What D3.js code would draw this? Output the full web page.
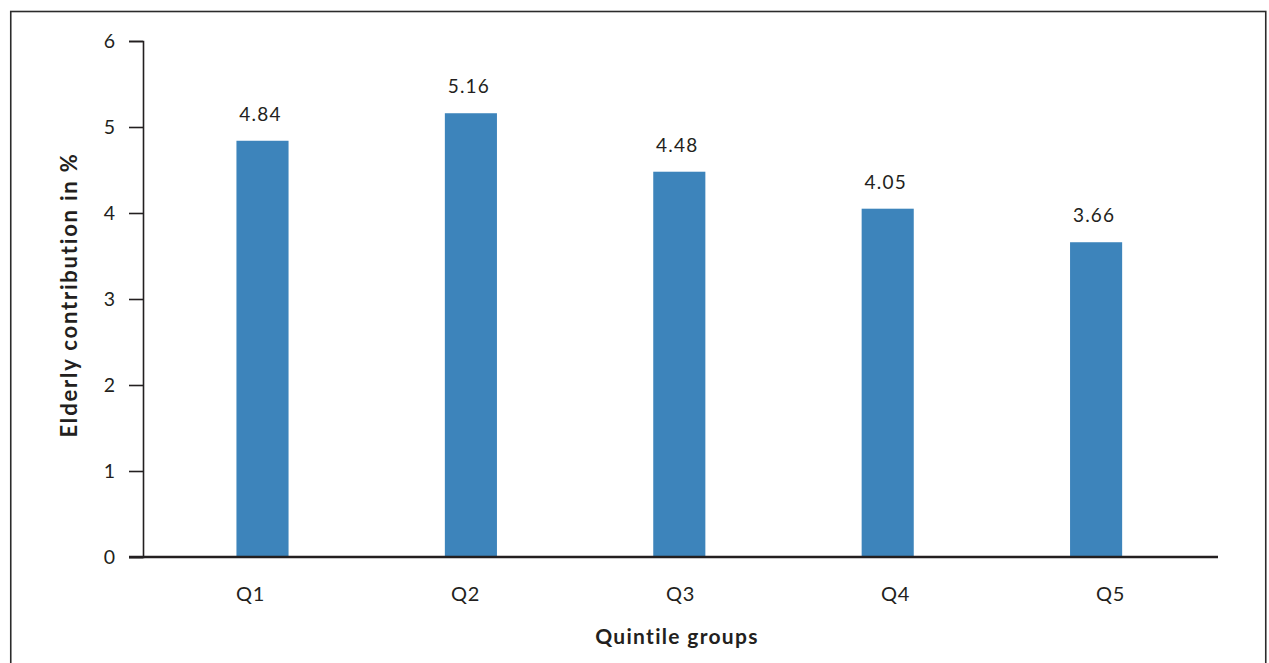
<!DOCTYPE html>
<html>
<head>
<meta charset="utf-8">
<script src="https://cdn.jsdelivr.net/npm/d3@7"></script>
<style>
  html, body { margin: 0; padding: 0; background: #fff; }
  svg { display: block; }
  text { font-family: Lato, "Noto Sans", sans-serif; fill: #231f20; }
</style>
</head>
<body>
<svg id="chart" width="1269" height="663"></svg>
<script>
// Elderly contribution by income quintile group
const categories = ["Q1", "Q2", "Q3", "Q4", "Q5"];
const values = [4.84, 5.16, 4.48, 4.05, 3.66];
const yTicks = [0, 1, 2, 3, 4, 5, 6];
const yTitle = "Elderly contribution in %";
const xTitle = "Quintile groups";

const svg = d3.select("#chart");
const ink = "#231f20";
const barColor = "#3d84bb";

// outer frame
svg.append("rect")
  .attr("x", 10.75).attr("y", 11.5)
  .attr("width", 1255).attr("height", 680)
  .attr("fill", "none")
  .attr("stroke", "#2b2b2b")
  .attr("stroke-width", 1.6);

const plotLeft = 143, plotRight = 1218, plotTop = 41, plotBottom = 557;

const y = d3.scaleLinear().domain([0, 6]).range([plotBottom, plotTop]);

// category axis spans the full plot width
const xAxisScale = d3.scaleBand().domain(categories).range([plotLeft, plotRight]);

// bars sit on a slightly narrower band
const xBar = d3.scaleBand().domain(categories)
  .range([158.3, 1200.3])
  .paddingInner(0.75)
  .paddingOuter(0.375);

// y axis
const yAxis = d3.axisLeft(y).tickValues(yTicks).tickSize(14).tickPadding(14).tickFormat(d3.format("d"));
const gy = svg.append("g").attr("transform", `translate(${plotLeft},0)`).call(yAxis);
gy.select(".domain").attr("stroke", ink).attr("stroke-width", 1.6);
gy.selectAll(".tick line").attr("stroke", ink).attr("stroke-width", 1.6);
gy.selectAll(".tick text")
  .style("font-size", "19.5px")
  .style("font-family", "Lato, 'Noto Sans', sans-serif")
  .attr("fill", ink);

// bars
svg.append("g").selectAll("rect")
  .data(values)
  .join("rect")
  .attr("x", (d, i) => xBar(categories[i]))
  .attr("y", d => y(d))
  .attr("width", xBar.bandwidth())
  .attr("height", d => y(0) - y(d))
  .attr("fill", barColor);

// value labels
svg.append("g").selectAll("text")
  .data(values)
  .join("text")
  .attr("x", (d, i) => xBar(categories[i]) + xBar.bandwidth() / 2 - 2)
  .attr("y", d => y(d) - 20)
  .attr("text-anchor", "middle")
  .style("font-size", "19px")
  .style("letter-spacing", "1.2px")
  .text(d => d.toFixed(2));

// x axis baseline
svg.append("line")
  .attr("x1", 129).attr("x2", plotRight)
  .attr("y1", y(0)).attr("y2", y(0))
  .attr("stroke", ink).attr("stroke-width", 2.4);

// category labels
svg.append("g").selectAll("text")
  .data(categories)
  .join("text")
  .attr("x", d => xAxisScale(d) + xAxisScale.bandwidth() / 2)
  .attr("y", 601)
  .attr("text-anchor", "middle")
  .style("font-size", "20px")
  .style("letter-spacing", "0.6px")
  .text(d => d);

// axis titles
svg.append("text")
  .attr("transform", `translate(77,${(plotTop + plotBottom) / 2 - 4}) rotate(-90)`)
  .attr("text-anchor", "middle")
  .style("font-size", "22px")
  .style("font-weight", "bold")
  .style("letter-spacing", "1.8px")
  .text(yTitle);

svg.append("text")
  .attr("x", 677)
  .attr("y", 644)
  .attr("text-anchor", "middle")
  .style("font-size", "21px")
  .style("font-weight", "bold")
  .style("letter-spacing", "1.3px")
  .text(xTitle);
</script>
</body>
</html>
